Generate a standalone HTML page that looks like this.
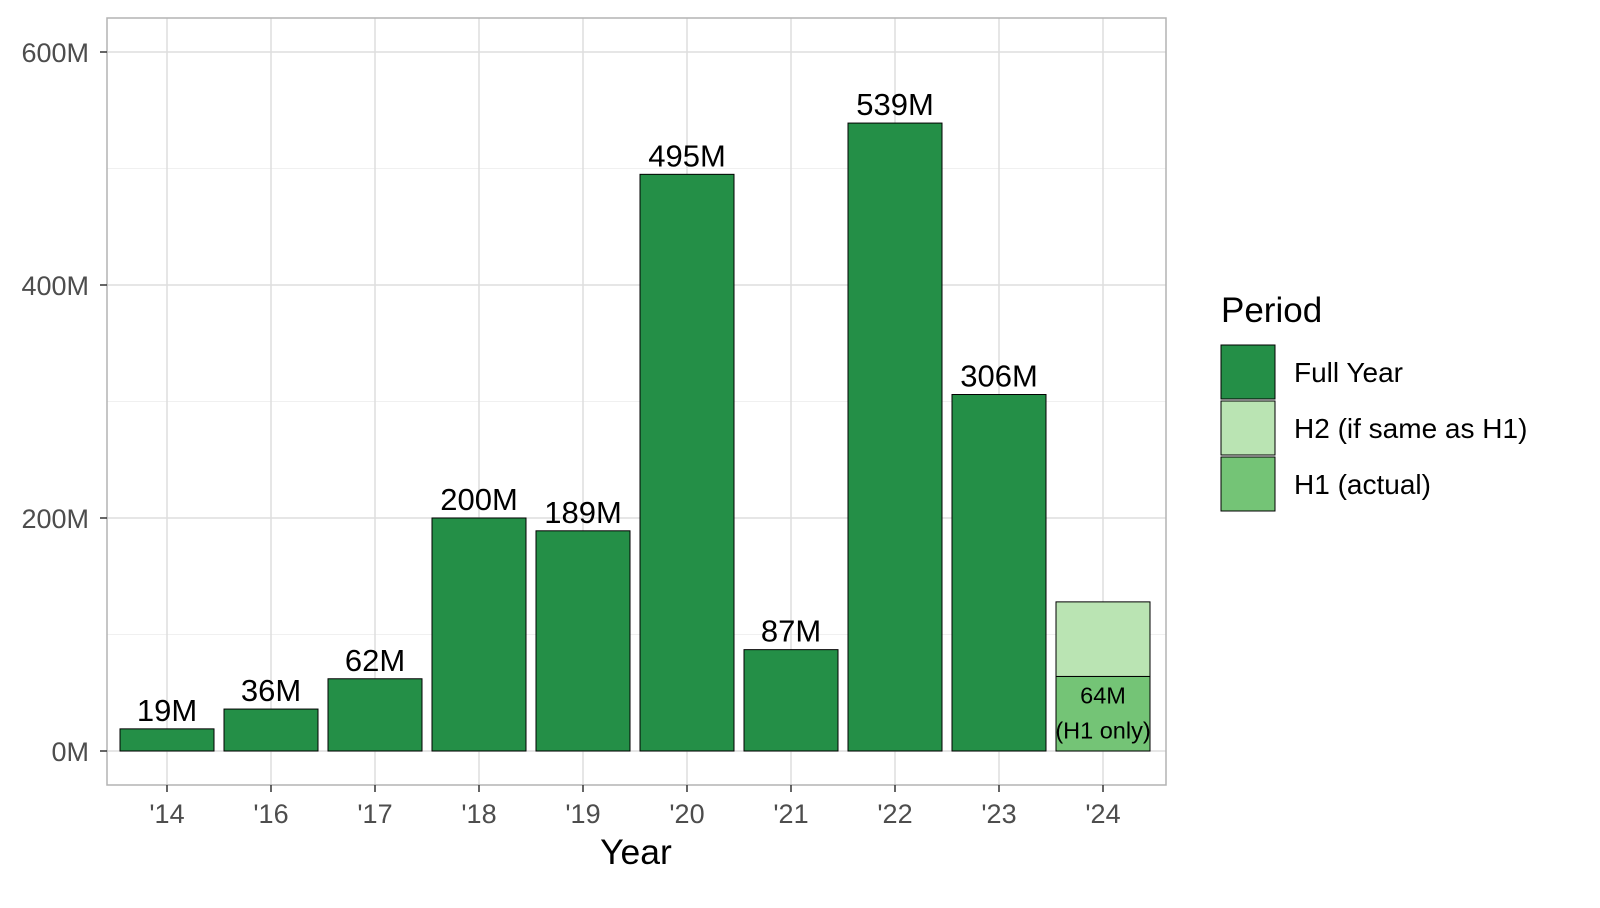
<!DOCTYPE html>
<html><head><meta charset="utf-8"><style>
html,body{margin:0;padding:0;background:#fff;}
svg{display:block;font-family:"Liberation Sans",Arial,sans-serif;}
</style></head><body>
<svg id="chart" width="1600" height="908" viewBox="0 0 1600 908">
<g id="grid"></g>
<g id="bars"></g>
<g id="labels"></g>
<rect x="107" y="18" width="1059" height="767" fill="none" stroke="#b3b3b3" stroke-width="1.5"/>
<g id="yaxis"></g>
<g id="xaxis"></g>
<text x="636" y="864" font-size="35.5" text-anchor="middle" fill="#000">Year</text>
<g>
<text x="1221" y="322" font-size="35" fill="#000">Period</text>
<g>
<rect x="1221" y="345" width="54" height="54" fill="#248f47" stroke="#000" stroke-width="1"/>
<text x="1294" y="382" font-size="28" fill="#000">Full Year</text></g>
<g>
<rect x="1221" y="401" width="54" height="54" fill="#bae4b3" stroke="#000" stroke-width="1"/>
<text x="1294" y="438" font-size="28" fill="#000">H2 (if same as H1)</text></g>
<g>
<rect x="1221" y="457" width="54" height="54" fill="#74c476" stroke="#000" stroke-width="1"/>
<text x="1294" y="494" font-size="28" fill="#000">H1 (actual)</text></g>
</g>
</svg>
<script>
const categories = ["'14","'16","'17","'18","'19","'20","'21","'22","'23","'24"];
const fullYear = [19,36,62,200,189,495,87,539,306,null];
const h1Values = [null,null,null,null,null,null,null,null,null,64];
const h2Values = [null,null,null,null,null,null,null,null,null,64];
const yTicks = [0,200,400,600];
const yTickLabels = ["0M","200M","400M","600M"];
const yMinor = [100,300,500];

const NS="http://www.w3.org/2000/svg";
function yScale(v){return 751 - v*(233/200);}
function xScale(i){return 167 + i*104;}
const bw = 94;
function mk(tag, attrs, parent, txt){const e=document.createElementNS(NS,tag);for(const k in attrs)e.setAttribute(k,attrs[k]);if(txt!==undefined)e.textContent=txt;parent.appendChild(e);return e;}
const grid=document.getElementById('grid'),bars=document.getElementById('bars'),labels=document.getElementById('labels'),ya=document.getElementById('yaxis'),xa=document.getElementById('xaxis');
yMinor.forEach(v=>{const l=mk('line',{x1:107,x2:1166,y1:yScale(v),y2:yScale(v),stroke:'#f0f0f0','stroke-width':1},grid);

});
yTicks.forEach((v,i)=>{const l=mk('line',{x1:107,x2:1166,y1:yScale(v),y2:yScale(v),stroke:'#dedede','stroke-width':1.5},grid);


mk('line',{x1:100,x2:107,y1:yScale(v),y2:yScale(v),stroke:'#333','stroke-width':1.5},ya);
const t=mk('text',{x:89,y:yScale(v)+10,'font-size':27,'text-anchor':'end',fill:'#4d4d4d'},ya,yTickLabels[i]);

});
categories.forEach((c,i)=>{const x=xScale(i);
const l=mk('line',{x1:x,x2:x,y1:18,y2:785,stroke:'#dedede','stroke-width':1.5},grid);


mk('line',{x1:x,x2:x,y1:785,y2:792,stroke:'#333','stroke-width':1.5},xa);
const t=mk('text',{x:x,y:823,'font-size':27,'text-anchor':'middle',fill:'#4d4d4d'},xa,c);


if(fullYear[i]!=null){const v=fullYear[i];
const r=mk('rect',{x:x-bw/2,y:yScale(v),width:bw,height:yScale(0)-yScale(v),fill:'#248f47',stroke:'#000','stroke-width':1},bars);


const lt=mk('text',{x:x,y:yScale(v)-8,'font-size':31,'text-anchor':'middle',fill:'#000'},labels,v+'M');

}
if(h1Values[i]!=null){const a=h1Values[i],b=h2Values[i]||0;
const r1=mk('rect',{x:x-bw/2,y:yScale(a),width:bw,height:yScale(0)-yScale(a),fill:'#74c476',stroke:'#000','stroke-width':1},bars);


const r2=mk('rect',{x:x-bw/2,y:yScale(a+b),width:bw,height:yScale(a)-yScale(a+b),fill:'#bae4b3',stroke:'#000','stroke-width':1},bars);


const t1=mk('text',{x:x,y:yScale(a)+27,'font-size':23.5,'text-anchor':'middle',fill:'#000'},labels,a+'M');


const t2=mk('text',{x:x,y:yScale(a)+62,'font-size':23.5,'text-anchor':'middle',fill:'#000'},labels,'(H1 only)');

}
});
</script>
</body></html>
